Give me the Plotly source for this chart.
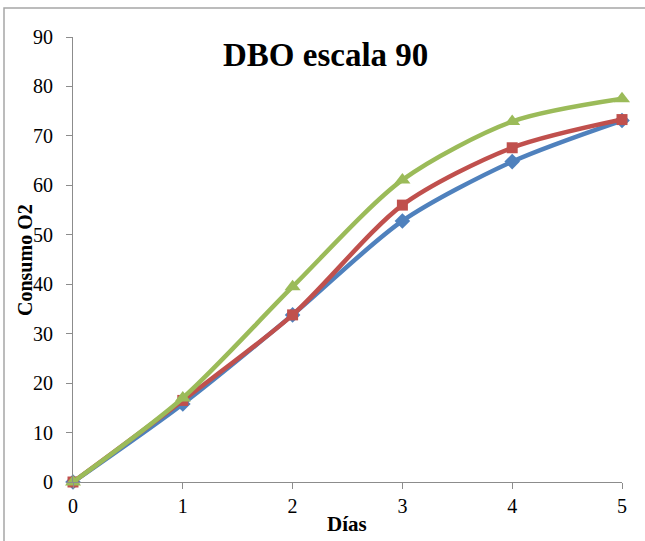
import plotly.graph_objects as go

dias = [0, 1, 2, 3, 4, 5]
serie_azul = [0, 15.8, 33.8, 52.8, 64.8, 73.1]
serie_roja = [0, 16.5, 33.8, 56.0, 67.6, 73.3]
serie_verde = [0, 17.0, 39.5, 61.1, 72.9, 77.5]

y_ticks = [0, 10, 20, 30, 40, 50, 60, 70, 80, 90]
x_ticks = [0, 1, 2, 3, 4, 5]

FONT = "Liberation Serif"

fig = go.Figure()
for ys, color, symbol, size in [
    (serie_azul, "#4F81BD", "diamond", 12),
    (serie_roja, "#C0504D", "square", 11),
    (serie_verde, "#9BBB59", "triangle-up", 14),
]:
    fig.add_trace(go.Scatter(
        x=dias, y=ys, mode="lines+markers",
        line=dict(color=color, width=4.5, shape="spline", smoothing=0.8),
        marker=dict(symbol=symbol, size=size, color=color),
        cliponaxis=False, showlegend=False,
    ))

axis_color = "#8C8C8C"
fig.update_xaxes(
    range=[0, 5], tickvals=x_ticks, showgrid=False, zeroline=False,
    showline=True, linecolor=axis_color, linewidth=1,
    ticks="outside", ticklen=6, tickcolor=axis_color,
    tickfont=dict(family=FONT, size=20, color="#000"),
)
fig.update_yaxes(
    range=[0, 90], tickvals=y_ticks, showgrid=False, zeroline=False,
    showline=True, linecolor=axis_color, linewidth=1,
    ticks="outside", ticklen=6, tickcolor=axis_color,
    ticklabelstandoff=9,
    tickfont=dict(family=FONT, size=20, color="#000"),
)

fig.add_annotation(text="<b>DBO escala 90</b>", xref="paper", yref="paper",
                   x=(325 - 73) / 549, y=(482 - 55) / 445, showarrow=False,
                   xanchor="center", yanchor="middle",
                   font=dict(family=FONT, size=33, color="#000"))
fig.add_annotation(text="<b>Días</b>", xref="paper", yref="paper",
                   x=(347 - 73) / 549, y=(482 - 524) / 445, showarrow=False,
                   xanchor="center", yanchor="middle",
                   font=dict(family=FONT, size=21, color="#000"))
fig.add_annotation(text="<b>Consumo O2</b>", xref="paper", yref="paper",
                   x=(25 - 73) / 549, y=(482 - 260) / 445, showarrow=False,
                   textangle=-90, xanchor="center", yanchor="middle",
                   font=dict(family=FONT, size=20, color="#000"))

# outer chart frame
fig.add_shape(type="rect", xref="paper", yref="paper",
              x0=(4 - 73) / 549, x1=1.3, y0=-0.4, y1=(482 - 8) / 445,
              line=dict(color="#A6A6A6", width=1.5), layer="below")

fig.update_layout(
    width=645, height=541,
    margin=dict(l=73, r=23, t=37, b=59),
    paper_bgcolor="white", plot_bgcolor="white",
)

fig.write_html("out.html")
